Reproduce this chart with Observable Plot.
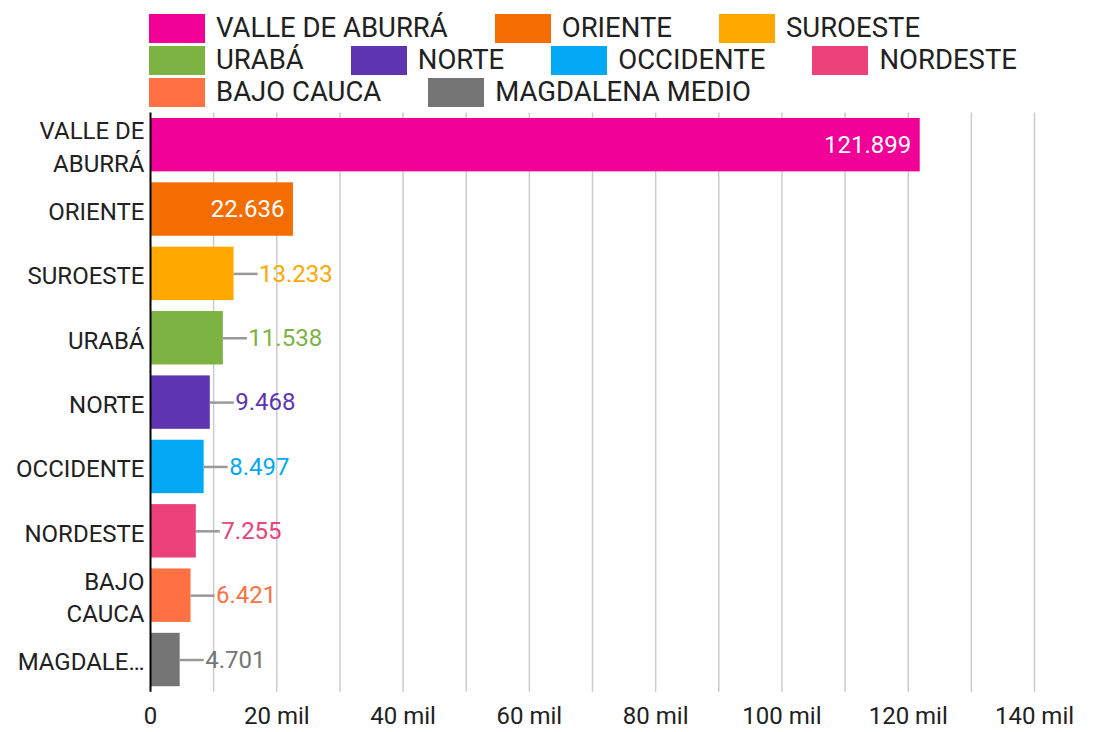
<!DOCTYPE html>
<html>
<head>
<meta charset="utf-8">
<script src="https://cdn.jsdelivr.net/npm/d3@7"></script>
<script src="https://cdn.jsdelivr.net/npm/@observablehq/plot@0.6"></script>
<style>
  html, body { margin: 0; padding: 0; background: #fff; }
  body { width: 1099px; height: 732px; overflow: hidden; font-family: Roboto, sans-serif; color: #212121; }
  #legend { box-sizing: border-box; height: 108px; padding-top: 14px; padding-left: 149px; }
  #legend .wrap { display: flex; flex-wrap: wrap; column-gap: 47px; row-gap: 3.3px; width: 930px; }
  #legend .item { display: flex; align-items: center; height: 28.7px; }
  #legend .sw { width: 56px; height: 28.7px; margin-right: 11px; }
  #legend .lb { font-size: 27.5px; line-height: 28.7px; white-space: nowrap; }
  #chart svg { display: block; }
</style>
</head>
<body>
<div id="legend"><div class="wrap"></div></div>
<div id="chart"></div>
<script>
const categories = ["VALLE DE ABURRÁ", "ORIENTE", "SUROESTE", "URABÁ", "NORTE", "OCCIDENTE", "NORDESTE", "BAJO CAUCA", "MAGDALENA MEDIO"];
const values = [121899, 22636, 13233, 11538, 9468, 8497, 7255, 6421, 4701];
const colors = ["#f00097", "#f46d00", "#ffa800", "#7cb342", "#5e35b1", "#03a9f4", "#ec407a", "#ff7043", "#757575"];
const yTickLabels = ["VALLE DE\nABURRÁ", "ORIENTE", "SUROESTE", "URABÁ", "NORTE", "OCCIDENTE", "NORDESTE", "BAJO\nCAUCA", "MAGDALE…"];
const xTicks = [0, 20000, 40000, 60000, 80000, 100000, 120000, 140000];
const xTickLabels = ["0", "20 mil", "40 mil", "60 mil", "80 mil", "100 mil", "120 mil", "140 mil"];
const gridTicks = [10000, 20000, 30000, 40000, 50000, 60000, 70000, 80000, 90000, 100000, 110000, 120000, 130000, 140000];

const data = categories.map((c, i) => ({region: c, value: values[i]}));
const fmt = d3.formatLocale({decimal: ",", thousands: ".", grouping: [3], currency: ["$", ""]}).format(",d");

// legend
const wrap = document.querySelector("#legend .wrap");
categories.forEach((c, i) => {
  const it = document.createElement("div");
  it.className = "item";
  const sw = document.createElement("div");
  sw.className = "sw";
  sw.style.background = colors[i];
  const lb = document.createElement("div");
  lb.className = "lb";
  lb.textContent = c;
  it.appendChild(sw); it.appendChild(lb);
  wrap.appendChild(it);
});

const W = 1099, H = 624, mL = 150, mR = 65, mT = 4.5, mB = 40.3;
const xDomain = [0, 140000];
const k = (W - mL - mR) / (xDomain[1] - xDomain[0]);
const leaderPx = 24;
const insideThreshold = 20000;
const inside = data.filter(d => d.value > insideThreshold);
const outside = data.filter(d => d.value <= insideThreshold);
const yLabel = new Map(categories.map((c, i) => [c, yTickLabels[i]]));
const xLabel = new Map(xTicks.map((t, i) => [t, xTickLabels[i]]));
const FS = 24;

const chart = Plot.plot({
  width: W, height: H,
  marginLeft: mL, marginRight: mR, marginTop: mT, marginBottom: mB,
  style: {fontFamily: "Roboto", fontSize: FS + "px", color: "#212121", background: "#fff"},
  x: {domain: xDomain, axis: null},
  y: {domain: categories, paddingInner: 0.17, paddingOuter: 0.085, round: false, axis: null},
  color: {domain: categories, range: colors},
  marks: [
    Plot.gridX(gridTicks, {stroke: "#cccccc", strokeOpacity: 1, strokeWidth: 1.5}),
    Plot.barX(data, {x: "value", y: "region", fill: "region"}),
    Plot.ruleY(outside, {y: "region", x1: "value", x2: d => d.value + leaderPx / k, stroke: "#999999", strokeWidth: 2.5}),
    Plot.text(outside, {x: "value", y: "region", text: d => fmt(d.value), fill: "region", dx: leaderPx + 1, textAnchor: "start", fontSize: FS}),
    Plot.text(inside, {x: "value", y: "region", text: d => fmt(d.value), fill: "white", dx: -9, textAnchor: "end", fontSize: FS}),
    Plot.ruleX([0], {stroke: "#000", strokeWidth: 2}),
    Plot.axisY({tickSize: 0, tickPadding: 6, tickFormat: d => yLabel.get(d), lineHeight: 1.34, fontSize: FS, label: null}),
    Plot.axisX(xTicks, {tickSize: 0, tickPadding: 15, tickFormat: d => xLabel.get(d), fontSize: FS, label: null})
  ]
});
document.getElementById("chart").appendChild(chart);
</script>
</body>
</html>
